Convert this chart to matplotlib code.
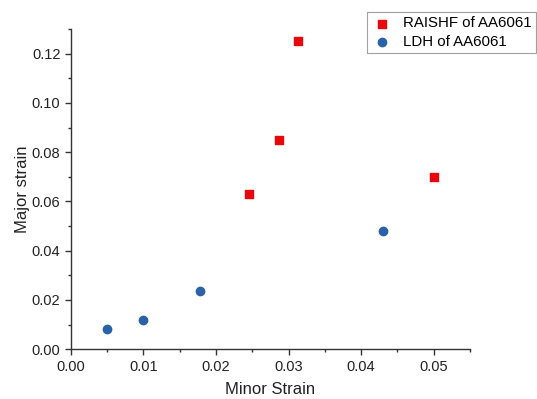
import matplotlib
matplotlib.use("Agg")
import matplotlib.pyplot as plt
from matplotlib.ticker import MultipleLocator

plt.rcParams['font.family'] = ['Liberation Sans', 'DejaVu Sans']

raishf_x = [0.0245, 0.0287, 0.0313, 0.050]
raishf_y = [0.063, 0.085, 0.125, 0.070]
ldh_x = [0.005, 0.010, 0.0178, 0.043]
ldh_y = [0.008, 0.012, 0.0237, 0.048]

fig = plt.figure(figsize=(5.37, 3.99), dpi=100)
ax = fig.add_axes([0.132, 0.125, 0.743, 0.802])
ax.scatter(raishf_x, raishf_y, marker='s', s=30, color='#e8070c', label='RAISHF of AA6061', zorder=3)
ax.scatter(ldh_x, ldh_y, marker='o', s=36, color='#2a62a8', label='LDH of AA6061', zorder=3)

ax.set_xlim(0, 0.055)
ax.set_ylim(0, 0.13)
ax.xaxis.set_major_locator(MultipleLocator(0.01))
ax.xaxis.set_minor_locator(MultipleLocator(0.005))
ax.yaxis.set_major_locator(MultipleLocator(0.02))
ax.yaxis.set_minor_locator(MultipleLocator(0.01))
ax.xaxis.set_major_formatter(plt.FormatStrFormatter('%.2f'))
ax.yaxis.set_major_formatter(plt.FormatStrFormatter('%.2f'))
ax.spines['top'].set_visible(False)
ax.spines['right'].set_visible(False)
for s in ['left', 'bottom']:
    ax.spines[s].set_color('#333333')
    ax.spines[s].set_linewidth(1.0)
ax.tick_params(which='major', direction='out', length=4, width=1, labelsize=10.5, colors='#333333', labelcolor='#222222')
ax.tick_params(which='minor', direction='out', length=2.5, width=1, colors='#333333')
ax.set_xlabel('Minor Strain', fontsize=12, color='#222222', labelpad=6)
ax.set_ylabel('Major strain', fontsize=12, color='#222222', labelpad=1.5)

leg = fig.legend(loc='upper left', bbox_to_anchor=(0.684, 0.97), fontsize=10.8,
                 frameon=True, fancybox=False, edgecolor='#888888', handletextpad=0.7,
                 borderpad=0.3, labelspacing=0.3, handlelength=1.4, borderaxespad=0)
leg.get_frame().set_linewidth(0.8)

fig.savefig('out.png', dpi=100)
